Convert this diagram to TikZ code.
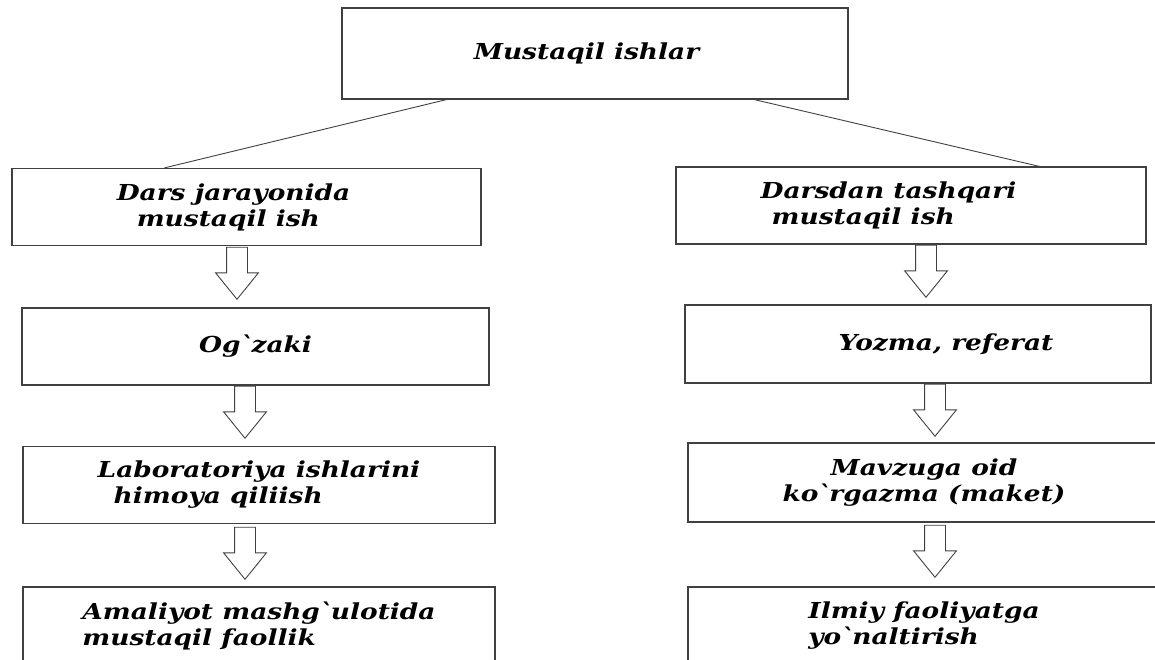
\documentclass[tikz,border=0pt]{standalone}
\usepackage{fontspec}
\setmainfont{DejaVu Serif}
\newfontfamily\boxfont{DejaVu Serif}[FakeStretch=1.2]
\usetikzlibrary{shapes.arrows}

\begin{document}
\begin{tikzpicture}[x=1pt,y=-1pt,block/.style={draw=black!75,line width=1.2pt,rectangle,minimum width=#1,minimum height=77pt,align=left,font=\boxfont\fontsize{22}{26}\selectfont\bfseries\itshape},block/.default=470pt,down/.style={draw=black!75,line width=0.9pt,single arrow,rotate=-90,anchor=tip,minimum height=52pt,inner xsep=0pt,inner ysep=10pt,single arrow head extend=11pt,single arrow tip angle=78},link/.style={draw=black!75,line width=0.9pt}]
  \clip (0,0) rectangle (1155,659);

  \node[block=506pt,minimum height=91pt] (top) at (595,53.5) {Mustaqil ishlar\hspace*{17pt}};

  \node[block=469pt] (l1) at (246.5,207) {Dars jarayonida\hspace*{26pt}\\\hspace*{20pt}mustaqil ish};
  \node[block=470pt] (r1) at (911,205.5) {Darsdan tashqari\hspace*{45pt}\\\hspace*{11pt}mustaqil ish};

  \node[block=467pt] (l2) at (255.5,346.5) {Og\textasciigrave{}zaki};
  \node[block=466pt,minimum height=78pt] (r2) at (918,344) {\hspace*{56pt}Yozma, referat};

  \node[block=472pt] (l3) at (259,485) {Laboratoriya ishlarini\\\hspace*{16pt}himoya qiliish};
  \node[block=472pt,minimum height=79pt,align=center] (r3) at (924,482.5) {Mavzuga oid\\ko\textasciigrave{}rgazma (maket)};

  \node[block=472pt] (l4) at (259,625.5) {Amaliyot mashg\textasciigrave{}ulotida\\mustaqil faollik};
  \node[block=472pt,minimum height=78pt] (r4) at (924,626) {Ilmiy faoliyatga\\yo\textasciigrave{}naltirish};

  \draw[link] ([xshift=105pt]top.south west) -- ([xshift=153pt]l1.north west);
  \draw[link] ([xshift=413pt]top.south west) -- ([xshift=364pt]r1.north west);

  \foreach \n/\x/\y in {al1/237/300,al2/245/439,al3/245/580,ar1/926/298,ar2/935/437,ar3/935/578}{
    \node[down] (\n) at (\x,\y) {};
  }

\end{tikzpicture}
\end{document}
